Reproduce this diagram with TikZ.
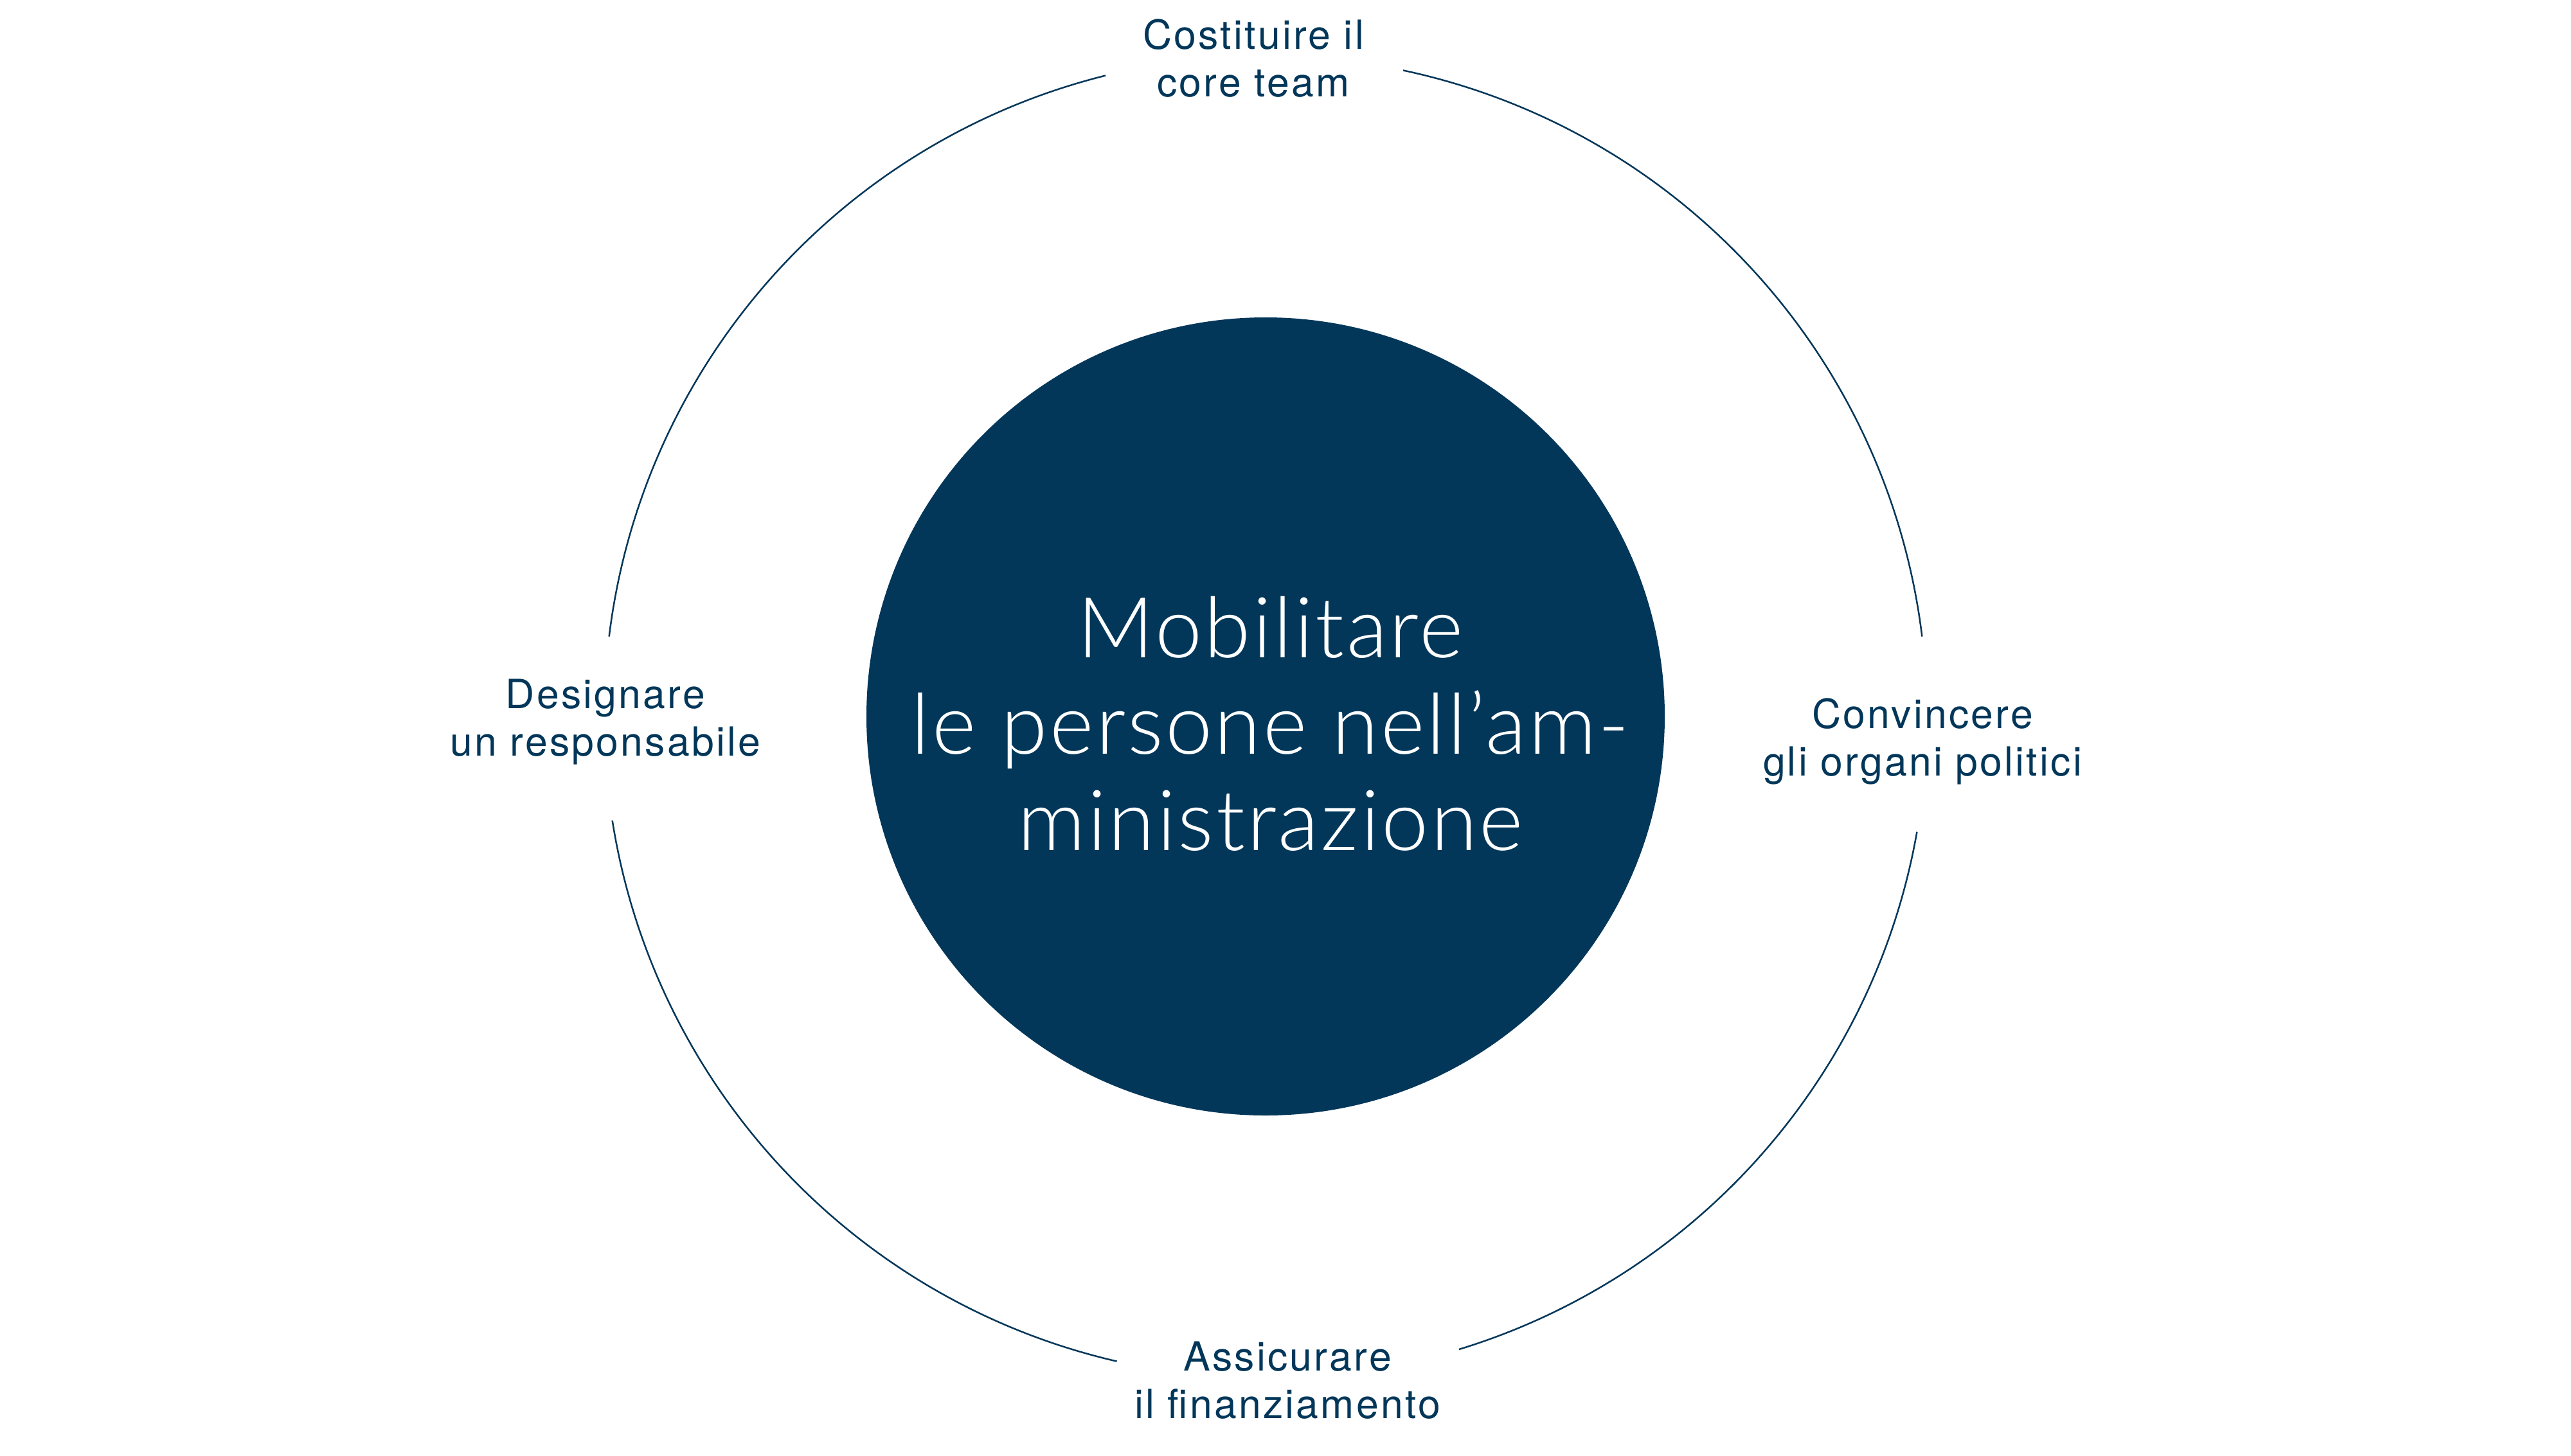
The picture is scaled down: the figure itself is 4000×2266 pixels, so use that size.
\documentclass[tikz,border=0pt]{standalone}
\usepackage{fontspec}
\setmainfont{TeX Gyre Heros}[LetterSpace=5.2]
\newfontfamily\lightfont{Lato Light}[LetterSpace=2.6]
\definecolor{navy}{HTML}{03375A}
\tikzset{
  phase/.style={align=center, text=navy, inner sep=0.75pt, font=\fontsize{12.5}{14.8}\selectfont},
  hub/.style={circle, fill=navy, minimum size=248.4pt, inner sep=0pt},
  title/.style={align=center, text=white, inner sep=0pt, font=\lightfont\fontsize{26.2}{30}\selectfont},
  orbit/.style={draw=navy, line width=0.5pt}
}
\begin{document}
\begin{tikzpicture}[x=0.2pt,y=0.2pt,yscale=-1,xscale=1]
  \path[fill=white] (0,0) rectangle (4000,2266);
  \useasboundingbox (0,0) rectangle (4000,2266);

  % Circle Node
  \node[hub] (hub) at (1969,1115) {};
  \node[title] (aim) at ([xshift=1.5pt,yshift=2.2pt]hub.center) {Mobilitare\\le persone nell’am-\\ministrazione};
  \coordinate (o) at (1969,1116);

  %Curve Lines
  \foreach \a/\b in {7/78, 104/173, 189/257, 287/350}
    \draw[orbit] ([shift={(-\a:1029)}]o) arc[start angle=-\a, end angle=-\b, radius=1029];

  % Text Node
  \node[phase] (team) at (1950,91) {Costituire il\\core team};
  % Text Node
  \node[phase] (lead) at (942,1124) {Designare\\un responsabile};
  % Text Node
  \node[phase] (board) at (2991,1154) {Convincere\\gli organi politici};
  % Text Node
  \node[phase] (funds) at (2003,2148) {Assicurare\\il finanziamento};

\end{tikzpicture}
\end{document}
